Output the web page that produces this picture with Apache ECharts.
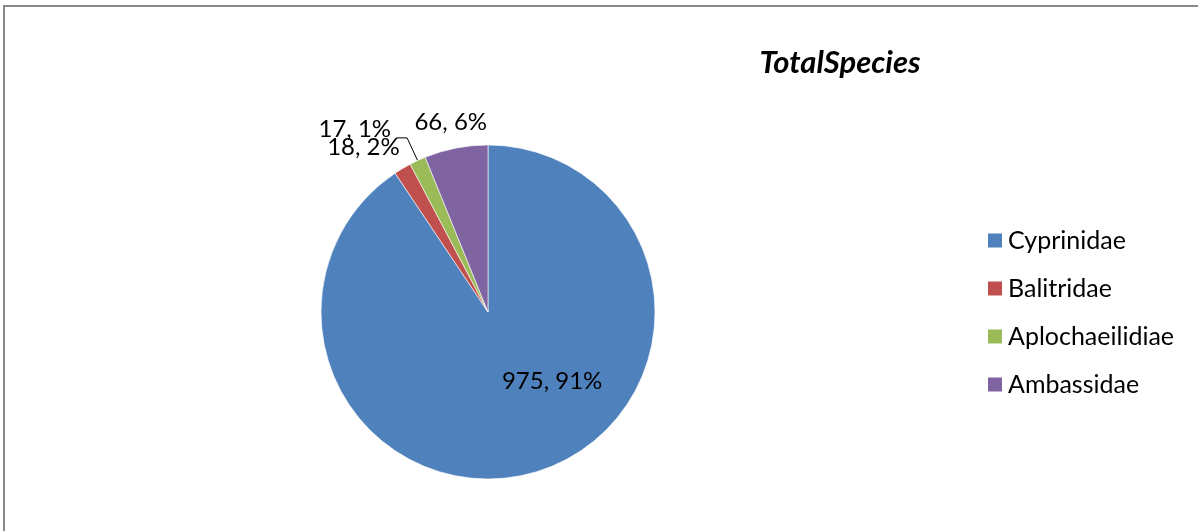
<!DOCTYPE html>
<html>
<head>
<meta charset="utf-8">
<script src="https://cdn.jsdelivr.net/npm/echarts@6/dist/echarts.min.js"></script>
<style>
html, body { margin: 0; padding: 0; background: #fff; }
#chart { width: 1198px; height: 531px; }
</style>
</head>
<body>
<div id="chart"></div>
<script>
// Species counts per fish family
const families = ['Cyprinidae', 'Balitridae', 'Aplochaeilidiae', 'Ambassidae'];
const speciesCounts = [975, 18, 17, 66];
const percentLabels = ['91%', '2%', '1%', '6%'];
const sliceColors = ['#4F81BD', '#C0504D', '#9BBB59', '#8064A2'];

const FONT = 'Lato, "Liberation Sans", sans-serif';

// per-slice label placement: big slice inside, small slices just outside the rim
const labelStyles = [
  { label: { position: 'inside' }, labelLine: { show: false } },
  { label: { position: 'outside' }, labelLine: { show: false, length: 25, length2: 0 } },
  { label: { position: 'outside', lineHeight: 18 }, labelLine: { show: true, length: 25, length2: 11 } },
  { label: { position: 'outside' }, labelLine: { show: false, length: 26, length2: 0 } }
];
// the leader-line label sits above its line: pad it with an empty second line
const raisedLabels = [2];
// fine shifts of the line-less labels
const labelNudge = { 0: [39, -14], 1: [15, 0], 3: [41, 0] };

const pieData = families.map((name, i) => Object.assign({
  name: name,
  value: speciesCounts[i],
  itemStyle: { color: sliceColors[i] }
}, labelStyles[i]));

const chart = echarts.init(document.getElementById('chart'), null, { renderer: 'canvas' });
chart.setOption({
  animation: false,
  backgroundColor: '#fff',
  title: {
    text: 'TotalSpecies',
    left: 835,
    top: 42,
    textAlign: 'center',
    textStyle: { fontFamily: FONT, fontSize: 31, fontWeight: 'bold', fontStyle: 'italic', color: '#000' }
  },
  legend: {
    orient: 'vertical',
    left: 981,
    top: 223,
    icon: 'rect',
    itemWidth: 16,
    itemHeight: 16,
    itemGap: 23,
    data: families,
    textStyle: { fontFamily: FONT, fontSize: 25, lineHeight: 24, color: '#000' }
  },
  graphic: [{
    type: 'rect',
    silent: true,
    z: -1,
    shape: { x: 4, y: 6, width: 1400, height: 700 },
    style: { fill: 'none', stroke: '#898989', lineWidth: 2 }
  }],
  series: [{
    type: 'pie',
    center: [488, 312],
    radius: 167,
    startAngle: 90,
    clockwise: true,
    avoidLabelOverlap: false,
    itemStyle: { borderColor: '#ffffff', borderWidth: 0.6 },
    label: {
      fontFamily: FONT,
      fontSize: 24,
      color: '#000',
      distanceToLabelLine: 5,
      formatter: p => p.value + ', ' + percentLabels[p.dataIndex] +
        (raisedLabels.indexOf(p.dataIndex) >= 0 ? '\n ' : '')
    },
    labelLine: { lineStyle: { color: '#000', width: 1 } },
    labelLayout: p => {
      const n = labelNudge[p.dataIndex];
      return n ? { dx: n[0], dy: n[1] } : {};
    },
    emphasis: { disabled: true },
    data: pieData
  }]
});
</script>
</body>
</html>
